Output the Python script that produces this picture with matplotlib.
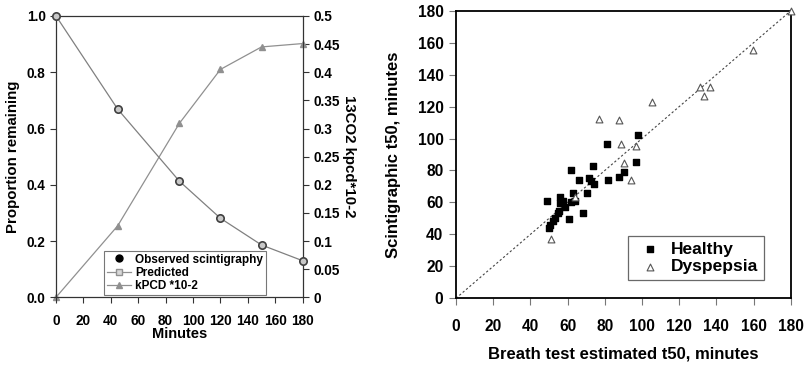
import matplotlib.pyplot as plt
import numpy as np

plt.rcParams['font.family'] = 'Liberation Sans'
plt.rcParams['font.weight'] = 'bold'

# Left panel: gastric emptying
minutes = [0, 45, 90, 120, 150, 180]
observed = [1.0, 0.669, 0.413, 0.281, 0.186, 0.130]
kpcd = [0.0, 0.127, 0.309, 0.405, 0.445, 0.451]

# Right panel: breath test vs scintigraphy
healthy_x = [48.9, 49.8, 50.6, 52.3, 53.4, 54.9, 55.2, 55.9, 55.9, 57.4, 58.8, 60.6,
             61.7, 62.0, 63.1, 64.2, 66.3, 68.5, 70.3, 71.7, 72.8, 74.2, 73.9, 81.4,
             81.8, 87.8, 90.4, 96.8, 97.9]
healthy_y = [60.7, 43.8, 45.7, 48.4, 50.1, 53.2, 54.9, 63.2, 59.5, 61.1, 56.9, 49.6,
             60.3, 80.5, 66.1, 60.9, 74.1, 53.6, 66.1, 75.1, 73.6, 71.5, 83.0, 96.4,
             74.1, 75.7, 79.3, 85.3, 102.0]
dysp_x = [51.1, 63.8, 77.1, 87.8, 88.9, 90.4, 93.9, 96.5, 105.1, 130.9, 133.4, 136.6,
          159.6, 180.0]
dysp_y = [37.3, 63.6, 112.0, 111.6, 96.6, 84.9, 74.1, 95.5, 123.1, 132.0, 126.8, 132.0,
          155.4, 180.0]

fig = plt.figure(figsize=(8.07, 3.70), dpi=100)

# ---- left panel
ax1 = fig.add_axes([0.0694, 0.1965, 0.3056, 0.7603])
ax1.plot(minutes, observed, color='#808080', lw=0.9, zorder=2)
ax1.scatter(minutes, observed, s=28, facecolor='#c8c8c8', edgecolor='#404040',
            lw=1.2, zorder=4, clip_on=False)
ax1.set_xlim(0, 180)
ax1.set_ylim(0, 1.0)
ax1.set_xticks(np.arange(0, 181, 20))
ax1.set_yticks(np.arange(0, 1.01, 0.2))
ax1.set_yticklabels(['%.1f' % v for v in np.arange(0, 1.01, 0.2)])
ax1.tick_params(labelsize=9.8, length=4, width=0.8, colors='#333333', labelcolor='black')
ax1.tick_params(axis='x', pad=8)
ax1.set_xlabel('Minutes', fontsize=10.5, fontweight='bold', labelpad=-1)
ax1.set_ylabel('Proportion remaining', fontsize=10.8, fontweight='bold', labelpad=5)
for s in ax1.spines.values():
    s.set_linewidth(0.8)
    s.set_color('#333333')

ax2 = ax1.twinx()
ax2.plot(minutes, kpcd, color='#909090', lw=0.9, marker='^', ms=4,
         mfc='#909090', mec='#909090', clip_on=False, zorder=3)
ax2.set_ylim(0, 0.5)
ax2.set_yticks(np.arange(0, 0.501, 0.05))
ax2.set_yticklabels(['0', '0.05', '0.1', '0.15', '0.2', '0.25', '0.3', '0.35',
                     '0.4', '0.45', '0.5'])
ax2.tick_params(labelsize=9.8, length=4, width=0.8, colors='#333333', labelcolor='black')
ax2.set_ylabel('13CO2 kpcd*10-2', fontsize=10.8, fontweight='bold', rotation=270,
               labelpad=12)

h1, = ax1.plot([], [], 'o', color='black', ms=5)
h2, = ax1.plot([], [], '-s', color='#909090', mfc='#d8d8d8', ms=4, lw=0.9)
h3, = ax1.plot([], [], '-^', color='#909090', ms=4, lw=0.9)
leg1 = ax1.legend([h1, h2, h3], ['Observed scintigraphy', 'Predicted', 'kPCD *10-2'],
                  loc='lower left', bbox_to_anchor=(0.185, 0.0), fontsize=8.5,
                  frameon=True, fancybox=False, handlelength=2.0, borderpad=0.25,
                  labelspacing=0.1, handletextpad=0.4, borderaxespad=0.2)
leg1.get_frame().set_edgecolor('#555555')
leg1.get_frame().set_linewidth(0.8)
leg1.set_zorder(10)
ax1.set_zorder(ax2.get_zorder() + 1)
ax1.patch.set_visible(False)

# ---- right panel
ax3 = fig.add_axes([0.565, 0.1938, 0.415, 0.7772])
ax3.plot([0, 180], [0, 180], linestyle=(0, (2, 2)), color='#444444', lw=0.8)
ax3.scatter(healthy_x, healthy_y, marker='s', s=20, color='black', zorder=3,
            label='Healthy')
ax3.scatter(dysp_x, dysp_y, marker='^', s=24, facecolor='white', edgecolor='#555555',
            lw=0.8, zorder=3, label='Dyspepsia', clip_on=False)
ax3.set_xlim(0, 180)
ax3.set_ylim(0, 180)
ax3.set_xticks(np.arange(0, 181, 20))
ax3.set_yticks(np.arange(0, 181, 20))
ax3.tick_params(labelsize=11.2, length=5, width=0.8, colors='#777777',
                labelcolor='black', pad=4)
ax3.tick_params(axis='x', pad=10)
ax3.set_xlabel('Breath test estimated t50, minutes', fontsize=12, fontweight='bold',
               labelpad=9)
ax3.set_ylabel('Scintigraphic t50, minutes', fontsize=12, fontweight='bold', labelpad=12)
for s in ax3.spines.values():
    s.set_linewidth(1.3)
leg2 = ax3.legend(loc='lower right', bbox_to_anchor=(0.945, 0.035), fontsize=12.5,
                  frameon=True, fancybox=False, handletextpad=0.2, borderpad=0.3,
                  labelspacing=0.15, markerscale=1.0)
leg2.get_frame().set_edgecolor('#444444')
leg2.get_frame().set_linewidth(0.9)

fig.savefig('out.png', dpi=100)
